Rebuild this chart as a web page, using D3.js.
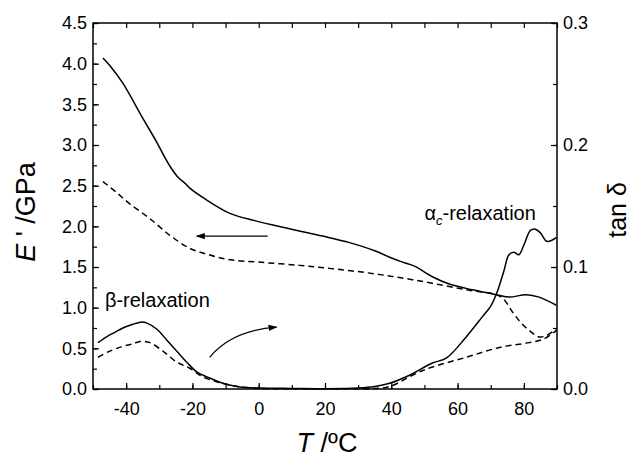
<!DOCTYPE html>
<html>
<head>
<meta charset="utf-8">
<script src="https://cdn.jsdelivr.net/npm/d3@7"></script>
<style>
    body { margin: 0; background: #fff; }
    svg { display: block; }
    .axis text { font-family: "Liberation Sans", Arial, sans-serif; font-size: 18px; fill: #000; }
    .axis line { stroke: #000; stroke-width: 1.2; }
    .lbl { font-family: "Liberation Sans", Arial, sans-serif; fill: #000; }
</style>
</head>
<body>
<div id="chart"></div>
<script>
// temperature (°C) and values
const solidModT = [-47, -45, -41, -35, -30.7, -28.5, -26.8, -24.5, -22, -20.8, -16.3, -8.7, -1.2, 9.3, 19.3, 27.4, 35, 39.5, 43.4, 47, 52.4, 57.5, 64.5, 71.7, 75.6, 80.7, 84.6, 89.8];
const solidMod = [4.07, 3.98, 3.76, 3.33, 3.03, 2.86, 2.74, 2.61, 2.52, 2.47, 2.34, 2.16, 2.07, 1.97, 1.88, 1.80, 1.70, 1.62, 1.56, 1.51, 1.38, 1.29, 1.22, 1.16, 1.13, 1.16, 1.13, 1.03];

const dashModT = [-47, -43, -39, -33, -26.8, -20.8, -15, -8.7, 0, 12.3, 22, 32.5, 42.5, 52.4, 62.6, 71.7, 74, 76.5, 79, 81.6, 84.6, 87, 89.8];
const dashMod = [2.55, 2.42, 2.28, 2.10, 1.89, 1.73, 1.65, 1.59, 1.56, 1.52, 1.48, 1.43, 1.37, 1.30, 1.22, 1.16, 1.10, 0.95, 0.82, 0.72, 0.64, 0.66, 0.74];

const solidTanT = [-48.5, -45.8, -43, -41, -38, -35.2, -33.7, -30.7, -27.7, -24.7, -21.7, -18.7, -14.8, -10.8, -5.7, 0, 10, 20, 30, 35, 39.5, 45.5, 52.4, 56.6, 62.6, 67.5, 70, 72, 74, 75.5, 77, 78.5, 80, 82, 83.5, 85, 87, 89.8];
const solidTan = [0.038, 0.043, 0.047, 0.050, 0.053, 0.055, 0.054, 0.049, 0.040, 0.031, 0.022, 0.014, 0.009, 0.0047, 0.0017, 0.0008, 0.0005, 0.0003, 0.0008, 0.002, 0.0047, 0.0113, 0.0213, 0.0253, 0.0427, 0.0593, 0.068, 0.080, 0.097, 0.110, 0.112, 0.110, 0.118, 0.130, 0.131, 0.128, 0.121, 0.124];

const dashTanT = [-48.5, -44.9, -41, -38, -35.8, -32.8, -28.9, -24.7, -20.8, -16.9, -12.7, -7.8, 0, 20, 35, 39.5, 47.6, 52.4, 62.6, 72.6, 81.6, 86, 89.8];
const dashTan = [0.026, 0.031, 0.035, 0.037, 0.039, 0.038, 0.031, 0.022, 0.017, 0.010, 0.006, 0.0027, 0.0005, 0.0003, 0.0005, 0.002, 0.013, 0.018, 0.026, 0.034, 0.038, 0.041, 0.048];

const xTicks = [-40, -20, 0, 20, 40, 60, 80];
const yTicks = [0, 0.5, 1, 1.5, 2, 2.5, 3, 3.5, 4, 4.5];
const tanTicks = [0, 0.1, 0.2, 0.3];

const W = 634, H = 459;
const margin = { top: 23, right: 77, bottom: 70, left: 93 };

const svg = d3.select('#chart').append('svg')
    .attr('width', W)
    .attr('height', H);

const x = d3.scaleLinear().domain([-50, 90]).range([margin.left, W - margin.right]);
const y = d3.scaleLinear().domain([0, 4.5]).range([H - margin.bottom, margin.top]);
const yTan = d3.scaleLinear().domain([0, 0.3]).range([H - margin.bottom, margin.top]);

const defs = svg.append('defs');
defs.append('marker')
    .attr('id', 'head')
    .attr('viewBox', '0 0 10 10')
    .attr('refX', 9).attr('refY', 5)
    .attr('markerWidth', 9).attr('markerHeight', 9)
    .attr('markerUnits', 'userSpaceOnUse')
    .attr('orient', 'auto')
    .append('path')
    .attr('d', 'M0,1.5 L10,5 L0,8.5 Z')
    .attr('fill', '#000');

// axes: major and minor ticks pointing inward
const bottom = H - margin.bottom, right = W - margin.right;
const minorX = d3.range(-50, 91, 10);
const minorY = d3.range(0, 4.51, 0.25);
const minorTan = d3.range(0, 0.301, 0.05);

svg.append('g').attr('class', 'axis')
    .attr('transform', `translate(0,${bottom})`)
    .call(d3.axisBottom(x).tickValues(minorX).tickSize(-4).tickFormat('').tickSizeOuter(0))
    .call(g => g.select('.domain').remove());
svg.append('g').attr('class', 'axis')
    .attr('transform', `translate(0,${bottom})`)
    .call(d3.axisBottom(x).tickValues(xTicks).tickSize(-6).tickPadding(13).tickFormat(d => String(d)).tickSizeOuter(0))
    .call(g => g.select('.domain').remove());
svg.append('g').attr('class', 'axis')
    .attr('transform', `translate(0,${margin.top})`)
    .call(d3.axisTop(x).tickValues(minorX).tickSize(-5).tickFormat('').tickSizeOuter(0))
    .call(g => g.select('.domain').remove());

svg.append('g').attr('class', 'axis')
    .attr('transform', `translate(${margin.left},0)`)
    .call(d3.axisLeft(y).tickValues(minorY).tickSize(-4).tickFormat('').tickSizeOuter(0))
    .call(g => g.select('.domain').remove());
svg.append('g').attr('class', 'axis')
    .attr('transform', `translate(${margin.left},0)`)
    .call(d3.axisLeft(y).tickValues(yTicks).tickSize(-6).tickPadding(6).tickFormat(d3.format('.1f')).tickSizeOuter(0))
    .call(g => g.select('.domain').remove());

svg.append('g').attr('class', 'axis')
    .attr('transform', `translate(${right},0)`)
    .call(d3.axisRight(yTan).tickValues(minorTan).tickSize(-4).tickFormat('').tickSizeOuter(0))
    .call(g => g.select('.domain').remove());
svg.append('g').attr('class', 'axis')
    .attr('transform', `translate(${right},0)`)
    .call(d3.axisRight(yTan).tickValues(tanTicks).tickSize(-6).tickPadding(6).tickFormat(d3.format('.1f')).tickSizeOuter(0))
    .call(g => g.select('.domain').remove());

svg.append('rect')
    .attr('x', margin.left).attr('y', margin.top)
    .attr('width', right - margin.left).attr('height', bottom - margin.top)
    .attr('fill', 'none').attr('stroke', '#000').attr('stroke-width', 1.5);

// curves
const lineMod = d3.line().x(d => x(d[0])).y(d => y(d[1])).curve(d3.curveCatmullRom);
const lineTan = d3.line().x(d => x(d[0])).y(d => yTan(d[1])).curve(d3.curveCatmullRom);

const series = [
    { pts: d3.zip(solidModT, solidMod), line: lineMod, dash: null },
    { pts: d3.zip(dashModT, dashMod), line: lineMod, dash: '6,4' },
    { pts: d3.zip(solidTanT, solidTan), line: lineTan, dash: null },
    { pts: d3.zip(dashTanT, dashTan), line: lineTan, dash: '6,4' }
];

svg.append('g').selectAll('path')
    .data(series)
    .enter().append('path')
    .attr('d', d => d.line(d.pts))
    .attr('fill', 'none')
    .attr('stroke', '#000')
    .attr('stroke-width', 1.5)
    .attr('stroke-dasharray', d => d.dash);

// arrows
svg.append('line')
    .attr('x1', x(2.7)).attr('y1', y(1.88))
    .attr('x2', x(-18.7)).attr('y2', y(1.88))
    .attr('stroke', '#000').attr('stroke-width', 1.2)
    .attr('marker-end', 'url(#head)');

svg.append('path')
    .attr('d', `M${x(-14.8)},${y(0.39)} Q${x(-8)},${y(0.72)} ${x(5.4)},${y(0.76)}`)
    .attr('fill', 'none').attr('stroke', '#000').attr('stroke-width', 1.2)
    .attr('marker-end', 'url(#head)');

// annotations
svg.append('text').attr('class', 'lbl')
    .attr('x', x(-46.4)).attr('y', y(1.01))
    .attr('font-size', 20)
    .text('β-relaxation');

const ac = svg.append('text').attr('class', 'lbl')
    .attr('x', x(50)).attr('y', y(2.08))
    .attr('font-size', 20);
ac.append('tspan').text('α');
ac.append('tspan').attr('font-size', 13).attr('font-style', 'italic').attr('dy', 5).text('c');
ac.append('tspan').attr('dy', -5).text('-relaxation');

// axis titles
const yt = svg.append('text').attr('class', 'lbl')
    .attr('transform', `translate(35,${(margin.top + bottom) / 2 + 6}) rotate(-90)`)
    .attr('text-anchor', 'middle')
    .attr('font-size', 27);
yt.append('tspan').attr('font-style', 'italic').text('E');
yt.append('tspan').text(" ' /GPa");

svg.append('text').attr('class', 'lbl')
    .attr('transform', `translate(626,${(margin.top + bottom) / 2 + 4}) rotate(-90)`)
    .attr('text-anchor', 'middle')
    .attr('font-size', 25)
    .text('tan δ');

const xt = svg.append('text').attr('class', 'lbl')
    .attr('x', (margin.left + right) / 2 + 2).attr('y', 452)
    .attr('text-anchor', 'middle')
    .attr('font-size', 27);
xt.append('tspan').attr('font-style', 'italic').text('T');
xt.append('tspan').text(' /ºC');
</script>
</body>
</html>
